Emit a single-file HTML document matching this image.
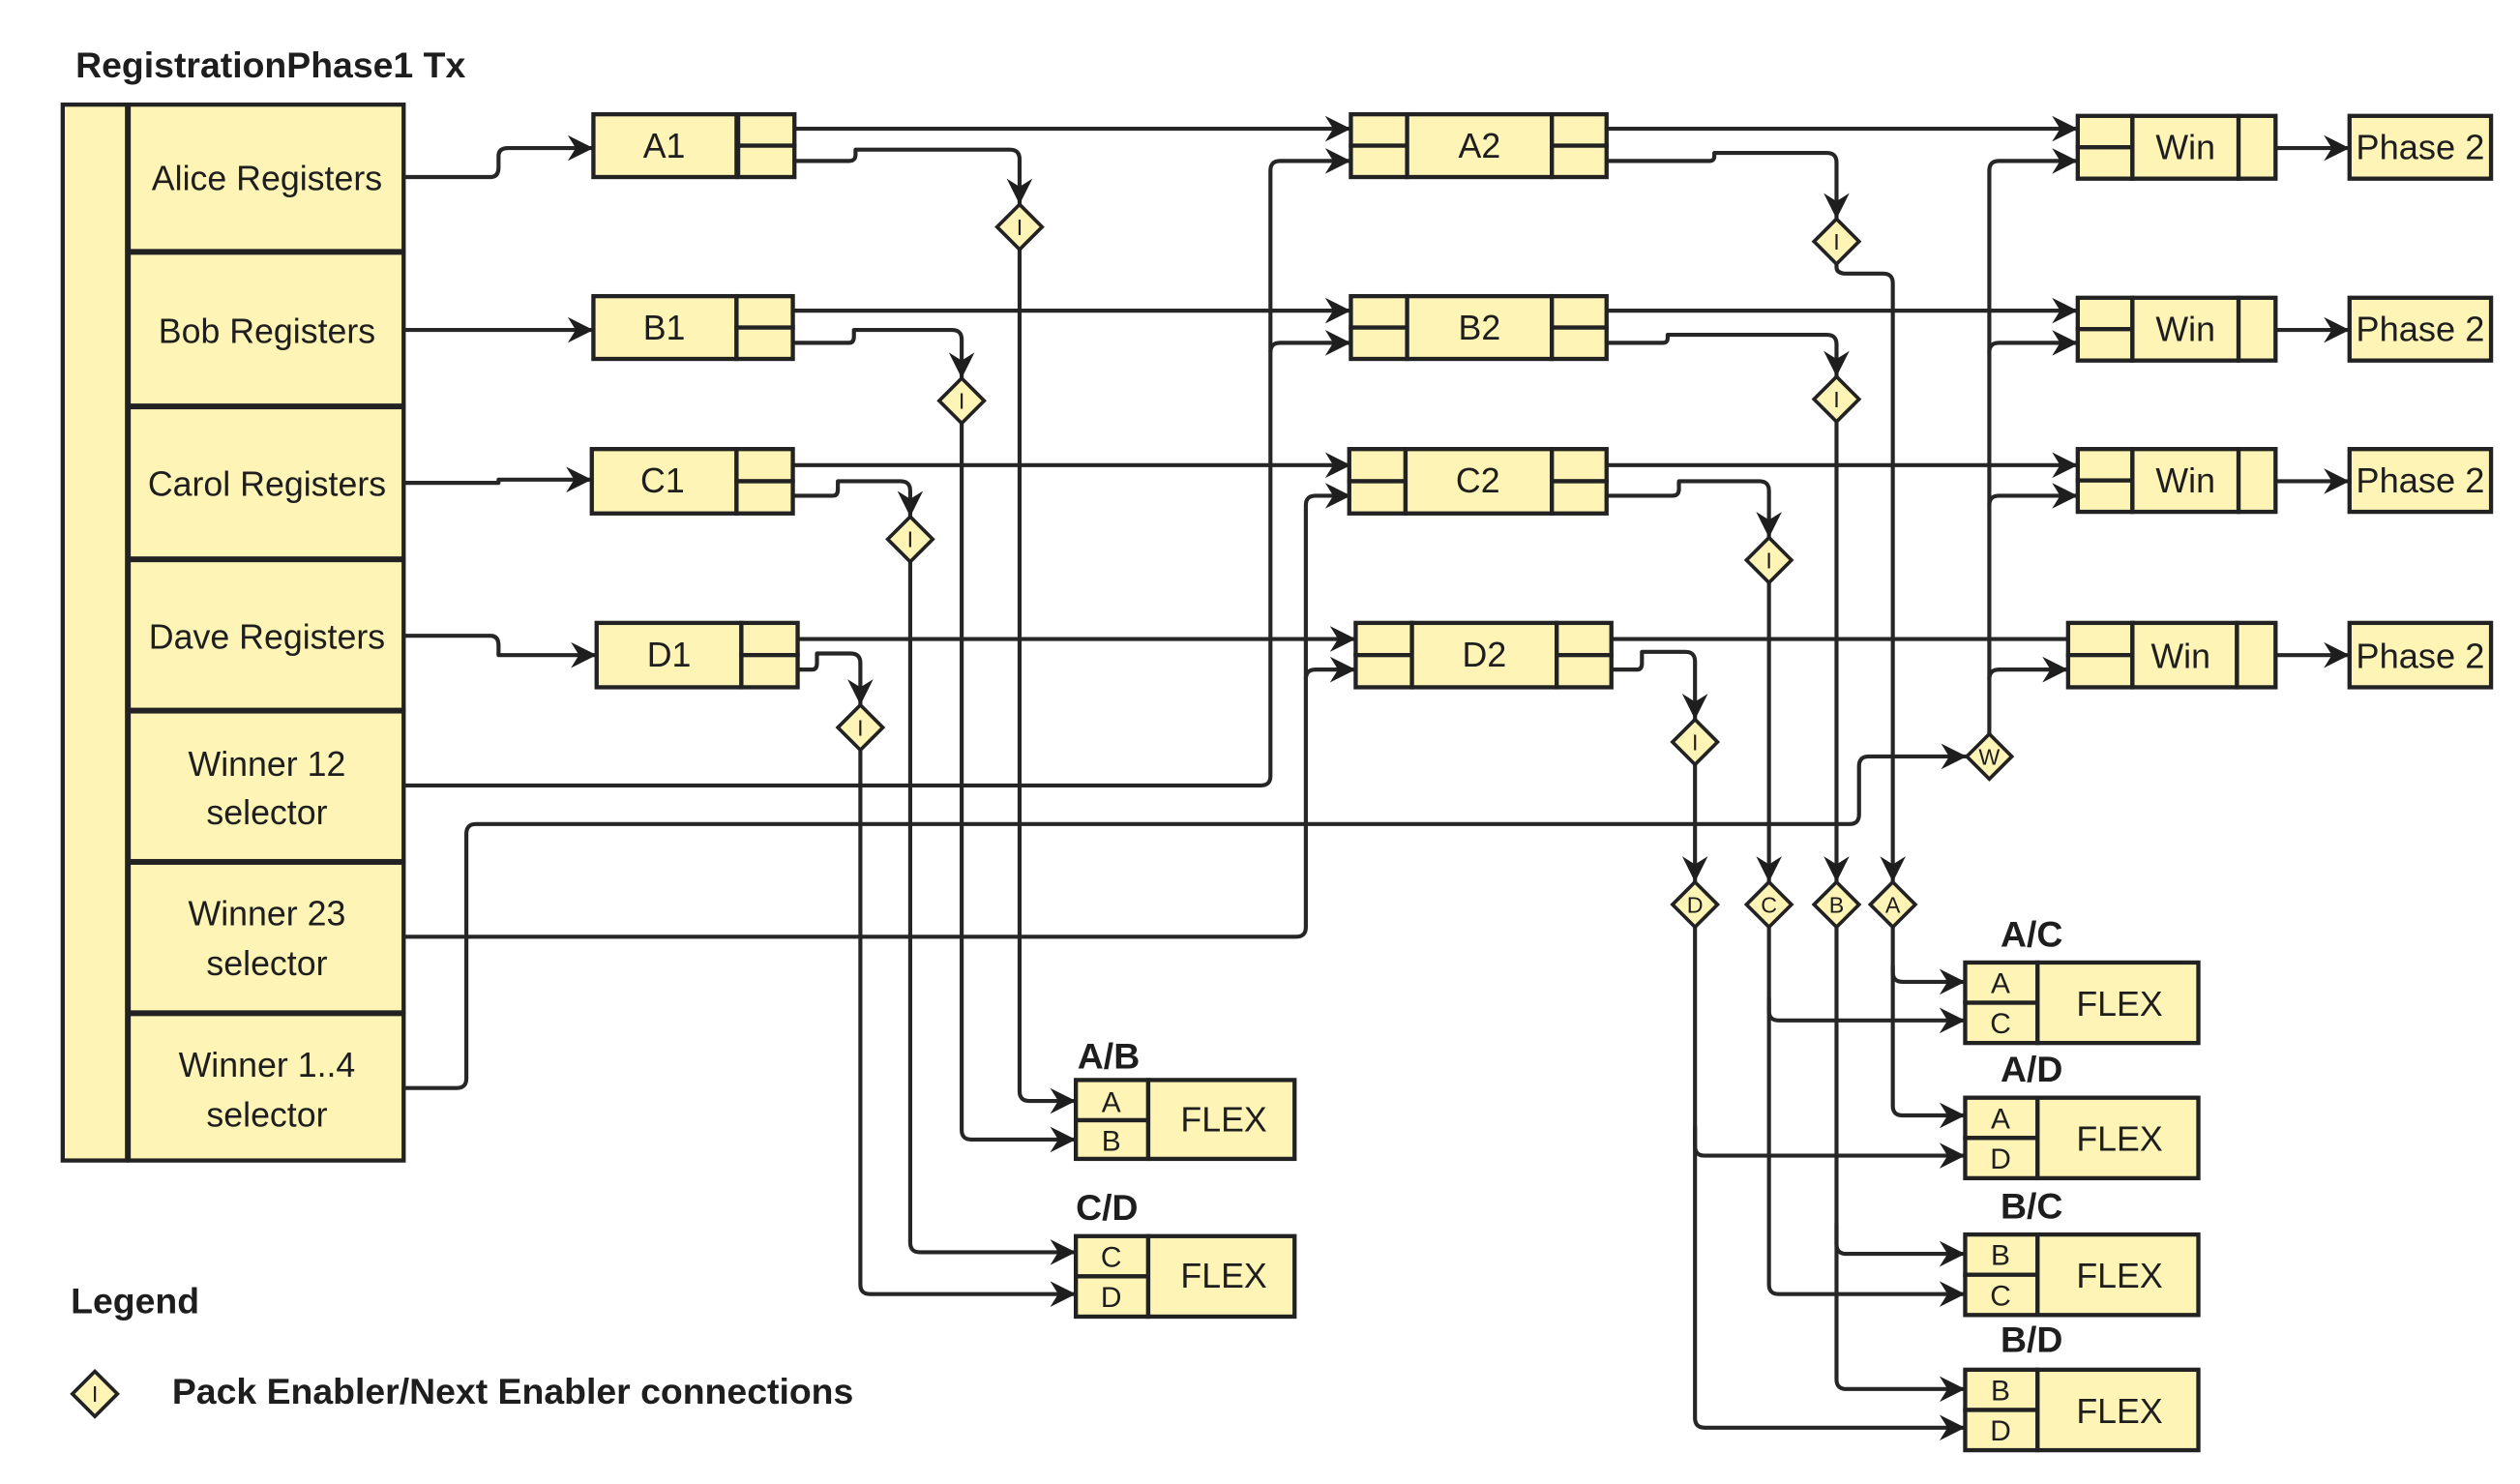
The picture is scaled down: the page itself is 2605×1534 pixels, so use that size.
<!DOCTYPE html>
<html><head><meta charset="utf-8"><style>
html,body{margin:0;padding:0;background:#fff;}
svg{display:block;}
text{font-family:"Liberation Sans",sans-serif;fill:#1e1e1e;}
.b{fill:#fdf4b6;stroke:#222;stroke-width:2.6;}
.l{fill:none;stroke:#262626;stroke-width:2.5;stroke-linejoin:round;}
.t{font-size:21.5px;text-anchor:middle;}
.s{font-size:18px;text-anchor:middle;}
.d{font-size:14px;text-anchor:middle;}
.h{font-size:22.5px;font-weight:bold;}
</style></head><body>
<svg width="2605" height="1534" viewBox="0 0 1567 922" preserveAspectRatio="none" xmlns="http://www.w3.org/2000/svg">
<defs><marker id="a" markerUnits="userSpaceOnUse" markerWidth="18" markerHeight="16" refX="16" refY="8" orient="auto"><path d="M0,0 L16,8 L0,16 L5,8 Z" fill="#1e1e1e"/></marker></defs>

<text x="47" y="48" class="h">RegistrationPhase1 Tx</text>
<rect class="b" x="39" y="65" width="40" height="656"/>
<rect class="b" x="80" y="65" width="171" height="91"/>
<rect class="b" x="80" y="157" width="171" height="95"/>
<rect class="b" x="80" y="253" width="171" height="94"/>
<rect class="b" x="80" y="348" width="171" height="93"/>
<rect class="b" x="80" y="442" width="171" height="93"/>
<rect class="b" x="80" y="536" width="171" height="93"/>
<rect class="b" x="80" y="630" width="171" height="91"/>
<text x="166" y="118" class="t">Alice Registers</text>
<text x="166" y="213" class="t">Bob Registers</text>
<text x="166" y="308" class="t">Carol Registers</text>
<text x="166" y="403" class="t">Dave Registers</text>
<text x="166" y="482" class="t">Winner 12</text><text x="166" y="512" class="t">selector</text>
<text x="166" y="575" class="t">Winner 23</text><text x="166" y="606" class="t">selector</text>
<text x="166" y="669" class="t">Winner 1..4</text><text x="166" y="700" class="t">selector</text>

<!-- connectors -->
<g class="l">
<path d="M251,110 H305 Q310,110 310,104 V97 Q310,92 316,92 H369" marker-end="url(#a)"/>
<path d="M251,205 H369" marker-end="url(#a)"/>
<path d="M251,300 H310 V298 H368" marker-end="url(#a)"/>
<path d="M251,395 H305 Q310,395 310,401 V407 H371" marker-end="url(#a)"/>

<path d="M494,80 H840" marker-end="url(#a)"/>
<path d="M494,100 H528 Q532,100 532,96 V93 H628 Q634,93 634,99 V127" marker-end="url(#a)"/>
<path d="M634,155 V678 Q634,684 640,684 H669" marker-end="url(#a)"/>
<path d="M493,193 H840" marker-end="url(#a)"/>
<path d="M493,213 H528 Q531,213 531,209 V205 H592 Q598,205 598,211 V235" marker-end="url(#a)"/>
<path d="M598,263 V702 Q598,708 604,708 H669" marker-end="url(#a)"/>
<path d="M493,289 H840" marker-end="url(#a)"/>
<path d="M493,308 H518 Q521,308 521,304 V299 H560 Q566,299 566,305 V321" marker-end="url(#a)"/>
<path d="M566,349 V772 Q566,778 572,778 H669" marker-end="url(#a)"/>
<path d="M496,397 H843" marker-end="url(#a)"/>
<path d="M496,416 H505 Q508,416 508,412 V406 H529 Q535,406 535,412 V438" marker-end="url(#a)"/>
<path d="M535,466 V798 Q535,804 541,804 H669" marker-end="url(#a)"/>

<path d="M251,488 H784 Q790,488 790,482 V106 Q790,100 796,100 H840" marker-end="url(#a)"/>
<path d="M790,219 Q790,213 796,213 H840" marker-end="url(#a)"/>
<path d="M251,582 H806 Q812,582 812,576 V314 Q812,308 818,308 H840" marker-end="url(#a)"/>
<path d="M812,422 Q812,416 818,416 H843" marker-end="url(#a)"/>
<path d="M251,676 H284 Q290,676 290,670 V518 Q290,512 296,512 H1150 Q1156,512 1156,506 V476 Q1156,470 1162,470 H1223" marker-end="url(#a)"/>
<path d="M1237,456 V106 Q1237,100 1243,100 H1292" marker-end="url(#a)"/>
<path d="M1237,219 Q1237,213 1243,213 H1292" marker-end="url(#a)"/>
<path d="M1237,314 Q1237,308 1243,308 H1292" marker-end="url(#a)"/>
<path d="M1237,422 Q1237,416 1243,416 H1286" marker-end="url(#a)"/>

<path d="M999,80 H1292" marker-end="url(#a)"/>
<path d="M999,100 H1063 Q1066,100 1066,97 V95 H1136 Q1142,95 1142,101 V136" marker-end="url(#a)"/>
<path d="M1142,164 V166 Q1142,170 1148,170 H1171 Q1177,170 1177,176 V548" marker-end="url(#a)"/>
<path d="M999,193 H1292" marker-end="url(#a)"/>
<path d="M999,213 H1034 Q1037,213 1037,210 V208 H1136 Q1142,208 1142,214 V234" marker-end="url(#a)"/>
<path d="M1142,262 V548" marker-end="url(#a)"/>
<path d="M999,289 H1292" marker-end="url(#a)"/>
<path d="M999,308 H1040 Q1044,308 1044,304 V299 H1094 Q1100,299 1100,305 V334" marker-end="url(#a)"/>
<path d="M1100,362 V548" marker-end="url(#a)"/>
<path d="M1002,397 H1286"/>
<path d="M1002,416 H1018 Q1021,416 1021,412 V405 H1048 Q1054,405 1054,411 V447" marker-end="url(#a)"/>
<path d="M1054,475 V548" marker-end="url(#a)"/>

<path d="M1177,576 V604 Q1177,610 1183,610 H1222" marker-end="url(#a)"/>
<path d="M1177,600 V687 Q1177,693 1183,693 H1222" marker-end="url(#a)"/>
<path d="M1100,576 V628 Q1100,634 1106,634 H1222" marker-end="url(#a)"/>
<path d="M1100,620 V798 Q1100,804 1106,804 H1222" marker-end="url(#a)"/>
<path d="M1142,576 V773 Q1142,779 1148,779 H1222" marker-end="url(#a)"/>
<path d="M1142,760 V857 Q1142,863 1148,863 H1222" marker-end="url(#a)"/>
<path d="M1054,576 V712 Q1054,718 1060,718 H1222" marker-end="url(#a)"/>
<path d="M1054,700 V881 Q1054,887 1060,887 H1222" marker-end="url(#a)"/>

<path d="M1415,92 H1461" marker-end="url(#a)"/>
<path d="M1415,205 H1461" marker-end="url(#a)"/>
<path d="M1415,299 H1461" marker-end="url(#a)"/>
<path d="M1415,407 H1461" marker-end="url(#a)"/>
</g>

<!-- col1 boxes -->
<g>
<rect class="b" x="369" y="71" width="89" height="39"/><rect class="b" x="459" y="71" width="35" height="19.5"/><rect class="b" x="459" y="90.5" width="35" height="19.5"/><text x="413" y="98" class="t">A1</text>
<rect class="b" x="369" y="184" width="89" height="39"/><rect class="b" x="458" y="184" width="35" height="19.5"/><rect class="b" x="458" y="203.5" width="35" height="19.5"/><text x="413" y="211" class="t">B1</text>
<rect class="b" x="368" y="279" width="90" height="40"/><rect class="b" x="458" y="279" width="35" height="20"/><rect class="b" x="458" y="299" width="35" height="20"/><text x="412" y="306" class="t">C1</text>
<rect class="b" x="371" y="387" width="90" height="40"/><rect class="b" x="461" y="387" width="35" height="20"/><rect class="b" x="461" y="407" width="35" height="20"/><text x="416" y="414" class="t">D1</text>
</g>
<!-- col2 boxes -->
<g>
<rect class="b" x="840" y="71" width="35" height="19.5"/><rect class="b" x="840" y="90.5" width="35" height="19.5"/><rect class="b" x="875" y="71" width="90" height="39"/><rect class="b" x="965" y="71" width="34" height="19.5"/><rect class="b" x="965" y="90.5" width="34" height="19.5"/><text x="920" y="98" class="t">A2</text>
<rect class="b" x="840" y="184" width="35" height="19.5"/><rect class="b" x="840" y="203.5" width="35" height="19.5"/><rect class="b" x="875" y="184" width="90" height="39"/><rect class="b" x="965" y="184" width="34" height="19.5"/><rect class="b" x="965" y="203.5" width="34" height="19.5"/><text x="920" y="211" class="t">B2</text>
<rect class="b" x="839" y="279" width="35" height="20"/><rect class="b" x="839" y="299" width="35" height="20"/><rect class="b" x="874" y="279" width="91" height="40"/><rect class="b" x="965" y="279" width="34" height="20"/><rect class="b" x="965" y="299" width="34" height="20"/><text x="919" y="306" class="t">C2</text>
<rect class="b" x="843" y="387" width="35" height="20"/><rect class="b" x="843" y="407" width="35" height="20"/><rect class="b" x="878" y="387" width="90" height="40"/><rect class="b" x="968" y="387" width="34" height="20"/><rect class="b" x="968" y="407" width="34" height="20"/><text x="923" y="414" class="t">D2</text>
</g>
<!-- Win boxes -->
<g>
<rect class="b" x="1292" y="72" width="34" height="19.5"/><rect class="b" x="1292" y="91.5" width="34" height="19.5"/><rect class="b" x="1326" y="72" width="66" height="39"/><rect class="b" x="1392" y="72" width="23" height="39"/><text x="1359" y="99" class="t">Win</text>
<rect class="b" x="1292" y="185" width="34" height="19.5"/><rect class="b" x="1292" y="204.5" width="34" height="19.5"/><rect class="b" x="1326" y="185" width="66" height="39"/><rect class="b" x="1392" y="185" width="23" height="39"/><text x="1359" y="212" class="t">Win</text>
<rect class="b" x="1292" y="279" width="34" height="19.5"/><rect class="b" x="1292" y="298.5" width="34" height="19.5"/><rect class="b" x="1326" y="279" width="66" height="39"/><rect class="b" x="1392" y="279" width="23" height="39"/><text x="1359" y="306" class="t">Win</text>
<rect class="b" x="1286" y="387" width="40" height="20"/><rect class="b" x="1286" y="407" width="40" height="20"/><rect class="b" x="1326" y="387" width="65" height="40"/><rect class="b" x="1391" y="387" width="24" height="40"/><text x="1356" y="415" class="t">Win</text>
<rect class="b" x="1461" y="72" width="88" height="39"/><text x="1505" y="99" class="t" textLength="80" lengthAdjust="spacingAndGlyphs">Phase 2</text>
<rect class="b" x="1461" y="185" width="88" height="39"/><text x="1505" y="212" class="t" textLength="80" lengthAdjust="spacingAndGlyphs">Phase 2</text>
<rect class="b" x="1461" y="279" width="88" height="39"/><text x="1505" y="306" class="t" textLength="80" lengthAdjust="spacingAndGlyphs">Phase 2</text>
<rect class="b" x="1461" y="387" width="88" height="40"/><text x="1505" y="415" class="t" textLength="80" lengthAdjust="spacingAndGlyphs">Phase 2</text>
</g>
<!-- diamonds -->
<g class="b" style="stroke-width:2.2">
<path d="M634,127 L648,141 L634,155 L620,141 Z"/>
<path d="M598,235 L612,249 L598,263 L584,249 Z"/>
<path d="M566,321 L580,335 L566,349 L552,335 Z"/>
<path d="M535,438 L549,452 L535,466 L521,452 Z"/>
<path d="M1142,136 L1156,150 L1142,164 L1128,150 Z"/>
<path d="M1142,234 L1156,248 L1142,262 L1128,248 Z"/>
<path d="M1100,334 L1114,348 L1100,362 L1086,348 Z"/>
<path d="M1054,447 L1068,461 L1054,475 L1040,461 Z"/>
<path d="M1237,456 L1251,470 L1237,484 L1223,470 Z"/>
<path d="M1054,548 L1068,562 L1054,576 L1040,562 Z"/>
<path d="M1100,548 L1114,562 L1100,576 L1086,562 Z"/>
<path d="M1142,548 L1156,562 L1142,576 L1128,562 Z"/>
<path d="M1177,548 L1191,562 L1177,576 L1163,562 Z"/>
<path d="M59,852 L73,866 L59,880 L45,866 Z"/>
</g>
<g class="d">
<text x="634" y="146">I</text><text x="598" y="254">I</text><text x="566" y="340">I</text><text x="535" y="457">I</text>
<text x="1142" y="155">I</text><text x="1142" y="253">I</text><text x="1100" y="353">I</text><text x="1054" y="466">I</text>
<text x="1237" y="475">W</text><text x="1054" y="567">D</text><text x="1100" y="567">C</text><text x="1142" y="567">B</text><text x="1177" y="567">A</text>
<text x="59" y="871">I</text>
</g>
<!-- FLEX -->
<g>
<text x="670" y="664" class="h">A/B</text>
<rect class="b" x="669" y="671" width="45" height="25"/><rect class="b" x="669" y="696" width="45" height="24"/><rect class="b" x="714" y="671" width="91" height="49"/>
<text x="691" y="691" class="s">A</text><text x="691" y="715" class="s">B</text><text x="761" y="703" class="t">FLEX</text>
<text x="669" y="758" class="h">C/D</text>
<rect class="b" x="669" y="768" width="45" height="25"/><rect class="b" x="669" y="793" width="45" height="25"/><rect class="b" x="714" y="768" width="91" height="50"/>
<text x="691" y="787" class="s">C</text><text x="691" y="812" class="s">D</text><text x="761" y="800" class="t">FLEX</text>

<text x="1244" y="588" class="h">A/C</text>
<rect class="b" x="1222" y="598" width="45" height="25"/><rect class="b" x="1222" y="623" width="45" height="25"/><rect class="b" x="1267" y="598" width="100" height="50"/>
<text x="1244" y="617" class="s">A</text><text x="1244" y="642" class="s">C</text><text x="1318" y="631" class="t">FLEX</text>
<text x="1244" y="672" class="h">A/D</text>
<rect class="b" x="1222" y="682" width="45" height="25"/><rect class="b" x="1222" y="707" width="45" height="25"/><rect class="b" x="1267" y="682" width="100" height="50"/>
<text x="1244" y="701" class="s">A</text><text x="1244" y="726" class="s">D</text><text x="1318" y="715" class="t">FLEX</text>
<text x="1244" y="757" class="h">B/C</text>
<rect class="b" x="1222" y="767" width="45" height="25"/><rect class="b" x="1222" y="792" width="45" height="25"/><rect class="b" x="1267" y="767" width="100" height="50"/>
<text x="1244" y="786" class="s">B</text><text x="1244" y="811" class="s">C</text><text x="1318" y="800" class="t">FLEX</text>
<text x="1244" y="840" class="h">B/D</text>
<rect class="b" x="1222" y="851" width="45" height="25"/><rect class="b" x="1222" y="876" width="45" height="25"/><rect class="b" x="1267" y="851" width="100" height="50"/>
<text x="1244" y="870" class="s">B</text><text x="1244" y="895" class="s">D</text><text x="1318" y="884" class="t">FLEX</text>
</g>
<text x="44" y="816" class="h">Legend</text>
<text x="107" y="872" class="h">Pack Enabler/Next Enabler connections</text>
</svg>
</body></html>
